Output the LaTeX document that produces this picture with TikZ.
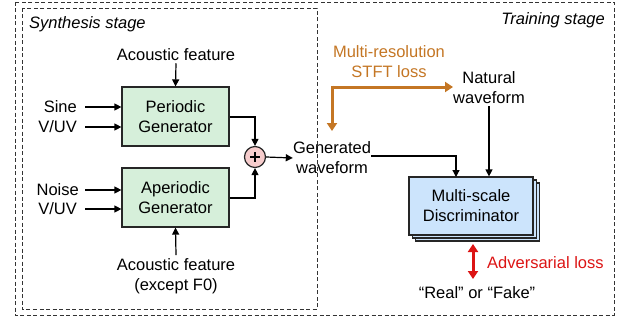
\documentclass[tikz,border=0pt]{standalone}
\usepackage{fontspec}
\setmainfont{Liberation Sans}
\usetikzlibrary{arrows.meta}
\definecolor{gfill}{RGB}{214,239,218}
\definecolor{bfill}{RGB}{204,228,252}
\definecolor{pfill}{RGB}{246,204,204}
\definecolor{stft}{RGB}{196,118,36}
\definecolor{adv}{RGB}{220,20,20}
\tikzset{
  every node/.style={font=\fontsize{16.5}{20}\selectfont, align=center, inner sep=0pt},
  frame/.style={draw=black!80, dashed, dash pattern=on 4pt off 2.5pt, line width=0.9pt},
  genbox/.style={draw=black!85, fill=gfill, line width=1.2pt, minimum width=107pt, minimum height=59pt},
  discbox/.style={draw=black!85, fill=bfill, line width=1.2pt, minimum width=124pt, minimum height=58pt},
  arr/.style={-{Triangle[length=7pt,width=7pt]}, line width=1.2pt},
  orarr/.style={-{Triangle[length=8pt,width=10pt]}, line width=3pt, draw=stft},
  advarr/.style={{Triangle[length=8pt,width=10pt]}-{Triangle[length=8pt,width=10pt]}, line width=3pt, draw=adv},
}
\begin{document}
\begin{tikzpicture}[x=1pt,y=-1pt]
\useasboundingbox (0,0) rectangle (629,321);
% frames
\draw[frame] (15,2) rectangle (614,315);
\draw[frame] (22,8) rectangle (317,309);
\node[anchor=west, font=\fontsize{16.5}{20}\selectfont\itshape] (syn) at (29,24) {Synthesis stage};
\node[anchor=east, font=\fontsize{16.5}{20}\selectfont\itshape] (tra) at (605,20) {Training stage};
% generators
\node[genbox] (per) at (175.5,116.5) {Periodic\\Generator};
\node[genbox] (aper) at (175.5,197.5) {Aperiodic\\Generator};
\node (af1) at (176,55) {Acoustic feature};
\node (af2) at (176,276) {Acoustic feature\\(except F0)};
\node[anchor=east] (sine) at (77,107) {Sine};
\node[anchor=east] (vuv1) at (77,127) {V/UV};
\node[anchor=east] (noise) at (79,190) {Noise};
\node[anchor=east] (vuv2) at (77,209) {V/UV};
\coordinate (sineE) at (85,107);
\coordinate (vuv1E) at (85,127);
\coordinate (noiseE) at (85,190);
\coordinate (vuv2E) at (85,209);
\draw[arr] (sineE) -- (per.west |- sineE);
\draw[arr] (vuv1E) -- (per.west |- vuv1E);
\draw[arr] (noiseE) -- (aper.west |- noiseE);
\draw[arr] (vuv2E) -- (aper.west |- vuv2E);
\draw[arr] (af1.south) ++(0,2) -- (per.north);
\draw[arr] (af2.north) ++(0,-3) -- (aper.south);
% adder
\node[circle, draw=black!85, fill=pfill, line width=1.2pt, minimum size=21pt] (plus) at (255,157) {};
\draw[line width=1.3pt] (plus.center) ++(-5,0) -- ++(10,0) (plus.center) ++(0,-5) -- ++(0,10);
\draw[arr] (per.east |- 0,117) -| (plus.north);
\draw[arr] (aper.east |- 0,198) -| (plus.south);
\node (gen) at (332,158) {Generated\\waveform};
\draw[arr] (plus.east) -- (gen.west);
% training
\node (nat) at (489,88) {Natural\\waveform};
\node[text=stft] (stftl) at (389,61.5) {Multi-resolution\\STFT loss};
\coordinate (oc) at (332,87);
\coordinate (ogen) at (332,131);
\draw[orarr] (oc) ++(0,-1.5) -- (ogen);
\draw[orarr] (331,87) -- (nat.west |- oc);
% discriminator
\node[discbox] (d3) at (477.5,212) {};
\node[discbox] (d2) at (474.5,209) {};
\node[discbox] (disc) at (471,206) {Multi-scale\\Discriminator};
\draw[arr] (nat.south) ++(0,2) -- (disc.north -| nat.south);
\draw[arr] (gen.east |- 0,156) -- (456,156) -- (456,177);
\node[anchor=west, text=adv] (advl) at (487,263) {Adversarial loss};
\coordinate (aTop) at (473,244);
\coordinate (aBot) at (473,279);
\draw[advarr] (aTop) -- (aBot);
\node (rf) at (477,293) {“Real” or “Fake”};
\end{tikzpicture}
\end{document}
